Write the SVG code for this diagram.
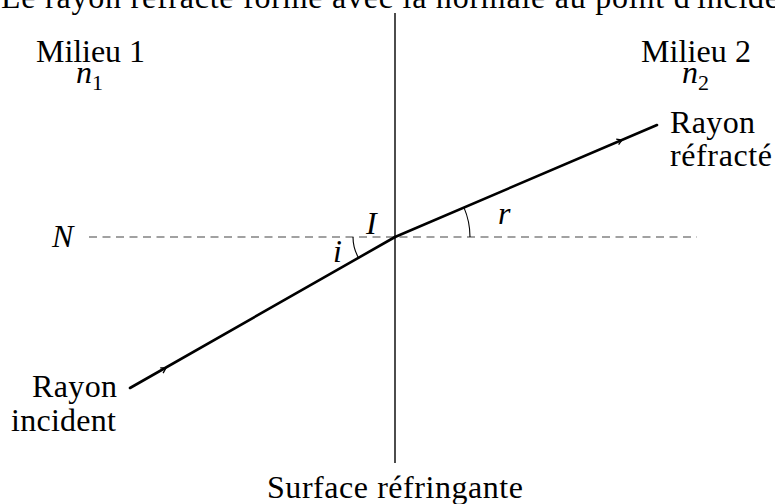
<svg xmlns="http://www.w3.org/2000/svg" width="775" height="504" viewBox="0 0 775 504">
<style>
text{font-family:"Liberation Serif","Times New Roman",serif;font-size:32px;fill:#000}
.m{font-style:italic}
.sub{font-size:22px;font-style:normal}
.ray{stroke:#000;stroke-width:2.6;fill:none;stroke-linecap:round}
.tick{stroke:#000;stroke-width:1.3;fill:none}
.arc{stroke:#000;stroke-width:1.1;fill:none}
</style>
<rect width="775" height="504" fill="#fff"/>
<text id="title" x="1" y="8" textLength="778">Le rayon réfracté forme avec la normale au point d'incide</text>
<g id="connectors">
  <line x1="395" y1="13" x2="395" y2="463" stroke="#000" stroke-width="1.4"/>
  <line x1="89" y1="237" x2="697" y2="237" stroke="#444" stroke-width="1.2" stroke-dasharray="8 5.5"/>
  <line class="ray" x1="130" y1="388" x2="395" y2="237"/>
  <line class="ray" x1="395" y1="237" x2="657" y2="125"/>
  <path class="tick" d="M163.1,373.1 L166,368 L160.2,367.9"/>
  <path class="tick" d="M618.6,144.7 L622,140 L616.2,139.2"/>
  <path class="arc" d="M353,237 A42,42 0 0 0 358.5,257.8"/>
  <path class="arc" d="M470,237 A75,75 0 0 0 463.9,207.4"/>
</g>
<g id="milieu1"><text x="36" y="62" textLength="109">Milieu 1</text><text class="m" x="76" y="83">n<tspan class="sub" dy="7">1</tspan></text></g>
<g id="milieu2"><text x="641" y="62" textLength="110">Milieu 2</text><text class="m" x="682" y="83">n<tspan class="sub" dy="7">2</tspan></text></g>
<g id="refracte"><text x="670" y="133" textLength="85">Rayon</text><text x="670" y="166" textLength="102">réfracté</text></g>
<g id="incident"><text x="32" y="397" textLength="85">Rayon</text><text x="11" y="431" textLength="105">incident</text></g>
<g id="N"><text class="m" x="52" y="247">N</text></g>
<g id="I"><text class="m" x="366" y="234">I</text></g>
<g id="i"><text class="m" x="333" y="262">i</text></g>
<g id="r"><text class="m" x="498" y="224">r</text></g>
<g id="surface"><text x="395" y="498" text-anchor="middle" textLength="256">Surface réfringante</text></g>
</svg>
